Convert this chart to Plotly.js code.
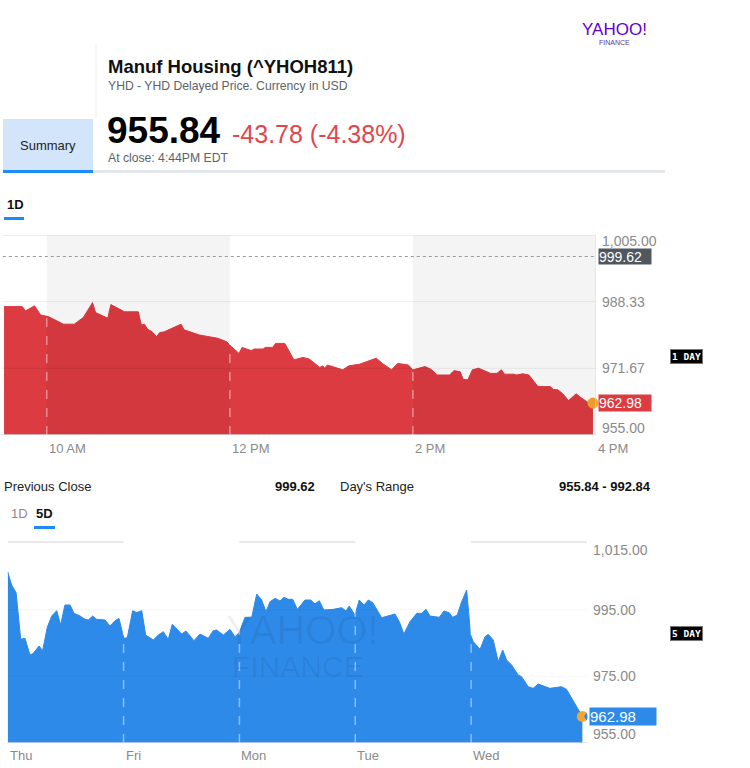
<!DOCTYPE html>
<html><head><meta charset="utf-8">
<script src="https://cdn.plot.ly/plotly-3.0.1.min.js"></script>
<style>html,body{margin:0;padding:0;background:#fff}#chart{width:750px;height:768px}</style>
</head><body><div id="chart"></div>
<script>
// ---------- 1D data ----------
const oneDayTimes = ['09:32','09:44','09:46','09:52','09:56','10:01','10:11','10:18','10:24','10:30','10:32','10:40','10:42','10:49','10:51','11:00','11:02','11:04','11:06','11:09','11:12','11:14','11:17','11:28','11:30','11:40','11:52','11:58','12:01','12:06','12:08','12:14','12:16','12:22','12:23','12:28','12:30','12:36','12:42','12:48','12:52','12:57','12:59','13:01','13:02','13:04','13:14','13:18','13:25','13:33','13:36','13:40','13:46','13:50','13:57','14:00','14:08','14:12','14:16','14:24','14:27','14:31','14:33','14:36','14:39','14:43','14:51','14:55','14:58','15:00','15:06','15:08','15:12','15:16','15:22','15:30','15:32','15:35','15:38','15:42','15:47','15:50','15:56','15:58'];
const oneDayValues = [987.1,987.1,986.0,987.3,985.0,984.6,982.7,982.7,984.4,988.1,985.6,984.2,987.6,986.3,985.8,985.8,982.5,982.7,981.5,980.8,979.6,980.6,980.8,982.7,981.3,980.0,979.2,978.3,977.1,975.4,976.9,976.1,976.5,976.5,976.9,976.9,977.9,977.9,973.8,974.4,974.0,972.5,971.9,972.3,971.7,972.5,971.3,972.3,972.7,973.8,974.2,972.9,971.3,972.9,972.5,971.3,972.1,971.4,970.0,970.0,971.1,970.8,968.9,968.8,971.3,971.7,970.4,970.4,971.3,970.2,970.2,970.0,970.3,970.0,967.1,967.1,966.4,966.3,965.4,963.6,965.3,964.4,962.8,962.98];
const oneDayTickHours = [10, 12, 14, 16];
const oneDayTickText = ['10 AM', '12 PM', '2 PM', '4 PM'];
const oneDayYTicks = [1005, 988.33, 971.67, 955];
const oneDayYTickText = ['1,005.00', '988.33', '971.67', '955.00'];
const previousClose = 999.62;
const lastPrice = 962.98;

// ---------- 5D data (trading hours since Thursday open) ----------
const fiveDayHours = [0,0.22,0.47,0.73,0.97,1.25,1.44,1.76,1.96,2.22,2.47,2.75,2.97,3.21,3.5,3.72,4.06,4.34,4.52,4.77,4.99,5.46,5.74,6.02,6.24,6.52,6.71,7.01,7.24,7.52,7.74,8.17,8.45,8.73,9.01,9.23,9.76,10.0,10.45,10.79,11.25,11.53,11.72,12.1,12.47,12.75,12.99,13.31,13.69,13.97,14.25,14.49,14.72,15.0,15.28,15.5,15.74,15.99,16.25,16.68,17.0,17.24,17.48,17.74,18.27,18.74,18.98,19.16,19.48,19.72,19.99,20.23,20.48,20.98,21.73,21.97,22.23,22.57,22.95,23.23,23.47,23.69,24.21,24.48,24.77,24.96,25.22,25.47,25.75,25.97,26.12,26.5,26.78,26.96,27.24,27.52,27.77,27.99,28.27,28.64,28.83,29.2,29.48,29.76,30.42,31.07,31.35,31.72,32.09,32.24];
const fiveDayValues = [1006.4,1002.4,1000.1,986.1,986.4,981.4,981.9,984.1,982.7,989.7,993.1,994.7,990.4,996.4,996.4,993.9,993.1,992.1,991.9,993.1,992.1,991.9,990.1,991.7,992.4,986.4,986.6,994.7,994.1,994.7,987.4,985.9,987.4,988.4,986.1,990.6,987.7,988.6,985.7,987.7,986.4,988.7,988.9,987.4,989.1,986.9,988.1,992.7,992.7,999.7,997.9,994.4,997.4,998.4,997.6,998.7,998.1,998.1,995.1,997.9,997.9,996.7,997.7,994.9,995.1,995.6,994.6,996.1,993.4,997.9,996.4,997.9,997.1,992.6,993.7,991.4,987.7,991.4,993.9,993.9,995.1,993.1,992.7,994.6,994.1,992.7,993.4,997.4,1000.9,987.4,985.4,983.1,986.9,987.6,985.9,979.4,982.9,979.9,978.4,975.4,974.9,971.9,971.4,972.7,971.4,971.9,971.1,967.9,964.4,962.98];
const fiveDayTickHours = [0, 6.5, 13, 19.5, 26];
const fiveDayTickText = ['Thu', 'Fri', 'Mon', 'Tue', 'Wed'];
const fiveDayYTicks = [1015, 995, 975, 955];
const fiveDayYTickText = ['1,015.00', '995.00', '975.00', '955.00'];
const sessionLength = 6.5;

// ---------- header texts ----------
const quoteName = 'Manuf Housing (^YHOH811)';
const quoteSub = 'YHD - YHD Delayed Price. Currency in USD';
const closePrice = '955.84';
const changeText = '-43.78 (-4.38%)';
const closeTime = 'At close: 4:44PM EDT';
const dayRange = '955.84 - 992.84';

// ---------- helpers ----------
const W = 750, H = 768;
const P = x => x / W;
const Q = y => 1 - y / H;
const FONT = 'Liberation Sans, Arial, Helvetica, sans-serif';
const toHours = t => { const [h, m] = t.split(':').map(Number); return h + m / 60; };
const oneDayX = oneDayTimes.map(toHours);
const RED = '#dc3b41', BLUE = '#2e8ae8', ORANGE = '#f5a431';

function txt(text, x, y, size, color, opts = {}) {
  return Object.assign({
    text, xref: 'paper', yref: 'paper', x: P(x), y: Q(y),
    xanchor: 'left', yanchor: 'middle', showarrow: false,
    font: { family: FONT, size, color }
  }, opts);
}
function prect(x0, y0, x1, y1, color) {
  return { type: 'rect', xref: 'paper', yref: 'paper', x0: P(x0), x1: P(x1), y0: Q(y0), y1: Q(y1),
           fillcolor: color, line: { width: 0 }, layer: 'above' };
}
function pline(x0, y0, x1, y1, color, width, dash) {
  return { type: 'line', xref: 'paper', yref: 'paper', x0: P(x0), x1: P(x1), y0: Q(y0), y1: Q(y1),
           line: { color, width, dash: dash || 'solid' }, layer: 'above' };
}

const traces = [
  { x: oneDayX, y: oneDayValues, type: 'scatter', mode: 'lines', fill: 'tozeroy',
    fillcolor: RED, line: { color: RED, width: 1 }, xaxis: 'x', yaxis: 'y', hoverinfo: 'skip' },
  { x: [oneDayX[oneDayX.length - 1]], y: [oneDayValues[oneDayValues.length - 1]], type: 'scatter', mode: 'markers',
    marker: { size: 11, color: ORANGE }, xaxis: 'x', yaxis: 'y', cliponaxis: false, hoverinfo: 'skip' },
  { x: fiveDayHours, y: fiveDayValues, type: 'scatter', mode: 'lines', fill: 'tozeroy',
    fillcolor: BLUE, line: { color: BLUE, width: 1 }, xaxis: 'x2', yaxis: 'y2', hoverinfo: 'skip' },
  { x: [fiveDayHours[fiveDayHours.length - 1]], y: [fiveDayValues[fiveDayValues.length - 1]], type: 'scatter', mode: 'markers',
    marker: { size: 11, color: ORANGE }, xaxis: 'x2', yaxis: 'y2', cliponaxis: false, hoverinfo: 'skip' }
];

const shapes = [];
// ---- header shapes ----
shapes.push(pline(96, 45, 96, 118, '#eeeeee', 1));
shapes.push(prect(3, 119, 93, 171, '#d3e5fa'));
shapes.push(prect(93, 170, 665, 173, '#e4e7eb'));
shapes.push(prect(3, 170, 93, 173, '#1d8cf8'));
shapes.push(prect(4, 217, 24, 220, '#1d8cf8'));
shapes.push(prect(34, 526, 55, 529, '#1d8cf8'));

// ---- 1D chart shapes ----
oneDayTickHours.slice(0, 3).forEach(h => shapes.push({ type: 'line', xref: 'x', yref: 'y', x0: h, x1: h, y0: 955, y1: 1005,
  line: { color: 'rgba(255,255,255,0.45)', width: 1.5, dash: 'dash' }, layer: 'above' }));
[[10, 12], [14, 16]].forEach(([a, b]) => shapes.push({ type: 'rect', xref: 'x', yref: 'y', x0: a, x1: b, y0: 955, y1: 1005,
  fillcolor: 'rgba(0,0,0,0.045)', line: { width: 0 }, layer: 'above' }));
[988.33, 971.67].forEach(v => shapes.push({ type: 'line', xref: 'x', yref: 'y', x0: 9.5, x1: 16, y0: v, y1: v,
  line: { color: 'rgba(0,0,0,0.07)', width: 1 }, layer: 'above' }));
shapes.push({ type: 'line', xref: 'x', yref: 'y', x0: 9.52, x1: 16, y0: 1005, y1: 1005, line: { color: '#d9dadf', width: 1 }, layer: 'above' });
shapes.push({ type: 'line', xref: 'x', yref: 'y', x0: 9.5, x1: 16, y0: 955, y1: 955, line: { color: '#d5d7dc', width: 1.5 }, layer: 'above' });
shapes.push({ type: 'line', xref: 'x', yref: 'y', x0: 16, x1: 16, y0: 955, y1: 1005, line: { color: '#dcdde2', width: 1 }, layer: 'above' });
shapes.push({ type: 'line', xref: 'x', yref: 'y', x0: 9.52, x1: 16, y0: previousClose, y1: previousClose,
  line: { color: '#9a9a9a', width: 1, dash: 'dot' }, layer: 'above' });
shapes.push({ type: 'path', xref: 'x', yref: 'y', xsizemode: 'pixel', ysizemode: 'pixel', xanchor: 16, yanchor: previousClose,
  path: 'M 1,0 L 6,7.5 L 6,-7.5 Z', fillcolor: '#50575e', line: { width: 0 }, layer: 'above' });
shapes.push({ type: 'path', xref: 'x', yref: 'y', xsizemode: 'pixel', ysizemode: 'pixel', xanchor: 16, yanchor: lastPrice,
  path: 'M 1,0 L 6,8 L 6,-8 Z', fillcolor: RED, line: { width: 0 }, layer: 'above' });

// ---- 5D chart shapes ----
fiveDayTickHours.slice(1).forEach(h => shapes.push({ type: 'line', xref: 'x2', yref: 'y2', x0: h, x1: h, y0: 955, y1: 1015,
  line: { color: 'rgba(255,255,255,0.45)', width: 1.5, dash: 'dash' }, layer: 'above' }));
[0, 2, 4].forEach(i => {
  const a = fiveDayTickHours[i], b = a + sessionLength;
  shapes.push({ type: 'line', xref: 'x2', yref: 'paper', x0: a, x1: b, y0: Q(542), y1: Q(542),
    line: { color: '#d3d4dc', width: 1 }, layer: 'above' });
});
[995, 975].forEach(v => shapes.push({ type: 'line', xref: 'x2', yref: 'y2', x0: 0, x1: 32.5, y0: v, y1: v,
  line: { color: 'rgba(0,0,0,0.04)', width: 1 }, layer: 'above' }));
shapes.push({ type: 'line', xref: 'x2', yref: 'y2', x0: 0, x1: 32.5, y0: 955, y1: 955, line: { color: '#d5d7dc', width: 1.5 }, layer: 'above' });
shapes.push({ type: 'path', xref: 'x2', yref: 'y2', xsizemode: 'pixel', ysizemode: 'pixel', xanchor: 32.5, yanchor: lastPrice,
  path: 'M -3,0 L 3,8.5 L 3,-8.5 Z', fillcolor: BLUE, line: { width: 0 }, layer: 'above' });

// ---------- annotations ----------
const annotations = [];
annotations.push(txt('YAHOO!', 614, 29, 17, '#6001d2', { xanchor: 'center', height: 16,
  font: { family: 'Liberation Sans Narrow, Liberation Sans, Arial', size: 17, color: '#6001d2' } }));
annotations.push(txt('FINANCE', 614, 42, 7, '#5b3a93', { xanchor: 'center', height: 8 }));
annotations.push(txt('<b>' + quoteName + '</b>', 106, 66, 18.5, '#111'));
annotations.push(txt(quoteSub, 106, 86, 12.2, '#5b636a'));
annotations.push(txt('Summary', 48, 145, 13, '#222', { xanchor: 'center' }));
annotations.push(txt('<b>' + closePrice + '</b>', 105, 131, 37, '#000'));
annotations.push(txt(changeText, 230, 134, 25, '#e0474c'));
annotations.push(txt(closeTime, 106, 158, 12.2, '#5b636a'));
annotations.push(txt('<b>1D</b>', 5, 205, 13, '#111'));
annotations.push(txt('Previous Close', 2, 486, 13, '#222'));
annotations.push(txt('<b>999.62</b>', 317, 486, 13, '#111', { xanchor: 'right' }));
annotations.push(txt("Day's Range", 338, 486, 13, '#222'));
annotations.push(txt('<b>' + dayRange + '</b>', 653, 486, 13, '#111', { xanchor: 'right' }));
annotations.push(txt('1D', 9, 513, 13, '#8a8a8a'));
annotations.push(txt('<b>5D</b>', 34, 513, 13, '#111'));

// 1D axis labels
oneDayTickHours.forEach((h, i) => annotations.push({ text: oneDayTickText[i], xref: 'x', yref: 'paper', x: h, y: Q(448),
  xanchor: 'left', yanchor: 'middle', showarrow: false, font: { family: FONT, size: 13, color: '#8a8a8a' } }));
const oneDayShift = [-6, 0, 0, 7];
oneDayYTicks.forEach((v, i) => annotations.push({ text: oneDayYTickText[i], xref: 'paper', yref: 'y', x: P(600), y: v,
  yshift: oneDayShift[i], xanchor: 'left', yanchor: 'middle', showarrow: false, height: 14,
  font: { family: FONT, size: 14, color: '#8a8a8a' } }));
annotations.push({ text: previousClose.toFixed(2), xref: 'paper', yref: 'y', x: P(598), y: previousClose,
  xanchor: 'left', yanchor: 'middle', showarrow: false, bgcolor: '#50575e', width: 52, height: 15, align: 'left', borderpad: 0,
  font: { family: FONT, size: 14, color: '#fff' } });
annotations.push({ text: lastPrice.toFixed(2), xref: 'paper', yref: 'y', x: P(598), y: lastPrice,
  xanchor: 'left', yanchor: 'middle', showarrow: false, bgcolor: RED, width: 52, height: 16, align: 'left', borderpad: 0,
  font: { family: FONT, size: 14, color: '#fff' } });
annotations.push(txt('<b>1 DAY</b>', 686, 356, 9.5, '#fff', { xanchor: 'center', bgcolor: '#000', bordercolor: '#777', borderwidth: 1, borderpad: 1,
  font: { family: 'DejaVu Sans Mono, monospace', size: 9.5, color: '#fff' } }));

// 5D axis labels
fiveDayTickHours.forEach((h, i) => annotations.push({ text: fiveDayTickText[i], xref: 'x2', yref: 'paper', x: h, y: Q(755),
  xanchor: 'left', yanchor: 'middle', showarrow: false, font: { family: FONT, size: 13, color: '#8a8a8a' } }));
const fiveDayShift = [-7, 0, 0, 9];
fiveDayYTicks.forEach((v, i) => annotations.push({ text: fiveDayYTickText[i], xref: 'paper', yref: 'y2', x: P(591), y: v,
  yshift: fiveDayShift[i], xanchor: 'left', yanchor: 'middle', showarrow: false, height: 14,
  font: { family: FONT, size: 14, color: '#8a8a8a' } }));
annotations.push({ text: lastPrice.toFixed(2), xref: 'paper', yref: 'y2', x: P(589), y: lastPrice,
  xanchor: 'left', yanchor: 'middle', showarrow: false, bgcolor: BLUE, width: 66, height: 17, align: 'left', borderpad: 0,
  font: { family: FONT, size: 15, color: '#fff' } });
annotations.push(txt('<b>5 DAY</b>', 686, 633, 9.5, '#fff', { xanchor: 'center', bgcolor: '#000', bordercolor: '#777', borderwidth: 1, borderpad: 1,
  font: { family: 'DejaVu Sans Mono, monospace', size: 9.5, color: '#fff' } }));
// watermark
annotations.push(txt('YAHOO!', 302, 630, 40, 'rgba(0,0,0,0.06)', { xanchor: 'center', height: 34,
  font: { family: 'Liberation Sans Narrow, Liberation Sans, Arial', size: 40, color: 'rgba(0,0,0,0.06)' } }));
annotations.push(txt('FINANCE', 298, 666, 30, 'rgba(0,0,0,0.06)', { xanchor: 'center', height: 26 }));

const layout = {
  width: W, height: H, margin: { l: 0, r: 0, t: 0, b: 0 },
  paper_bgcolor: '#fff', plot_bgcolor: 'rgba(0,0,0,0)', showlegend: false,
  font: { family: FONT },
  xaxis: { domain: [P(1), P(596)], range: [9.5, 16], anchor: 'y', visible: false, fixedrange: true },
  yaxis: { domain: [Q(435), Q(235)], range: [955, 1005], anchor: 'x', visible: false, fixedrange: true },
  xaxis2: { domain: [P(7.7), P(587)], range: [0, 32.5], anchor: 'y2', visible: false, fixedrange: true },
  yaxis2: { domain: [Q(743), Q(543)], range: [955, 1015], anchor: 'x2', visible: false, fixedrange: true },
  shapes, annotations
};
Plotly.newPlot('chart', traces, layout, { displayModeBar: false, staticPlot: true });
</script>
</body></html>
